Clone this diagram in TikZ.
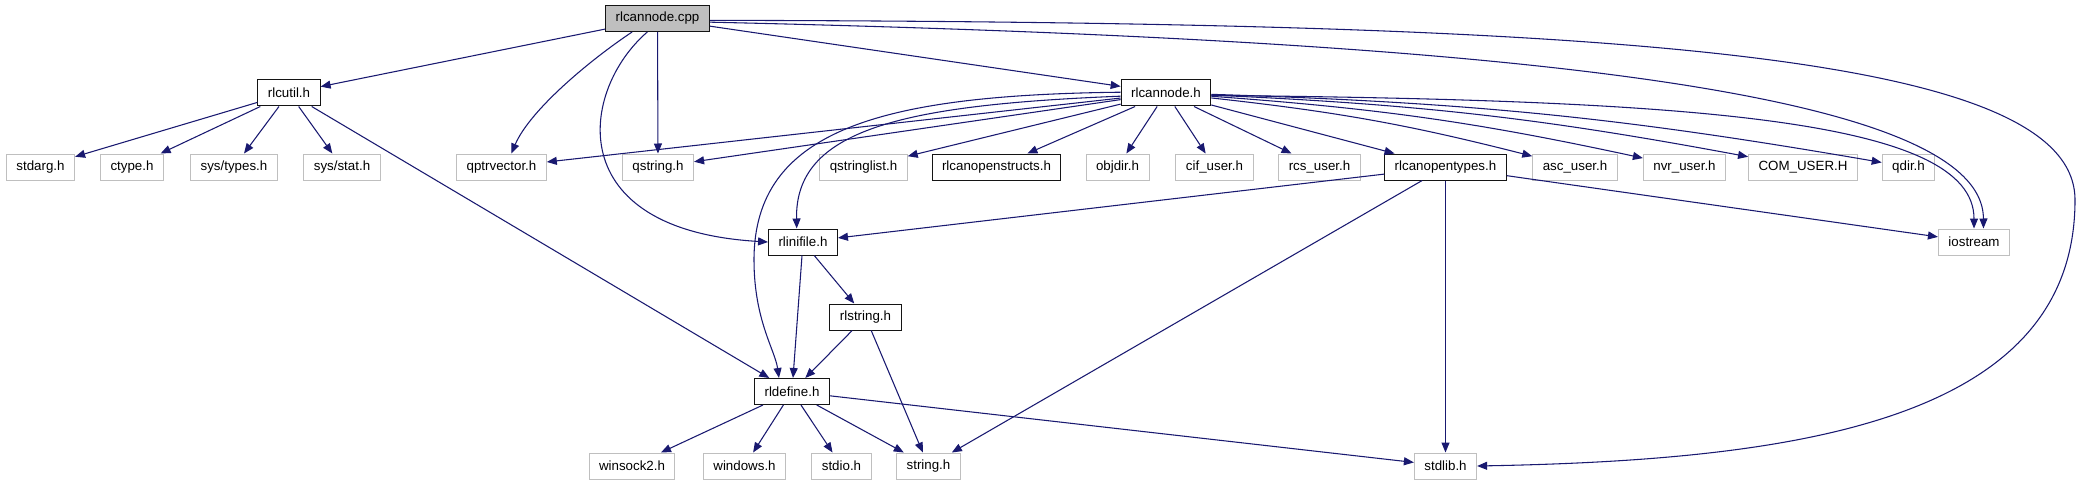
\documentclass[tikz,border=0pt]{standalone}
\definecolor{edgeblue}{RGB}{25, 25, 112}
\definecolor{boxgray}{RGB}{191, 191, 191}
\definecolor{framedark}{RGB}{20, 20, 20}
\usepackage{fontspec}
\setmainfont{Liberation Sans}
\usepackage{tikz}
\usetikzlibrary{arrows.meta}

\begin{document}
\begin{tikzpicture}[x=0.75pt, y=-0.75pt,
    hfile/.style={draw=framedark, rectangle, line width=0.75pt, inner xsep=7.5pt, inner ysep=0pt,
      minimum height=19.5pt, font=\fontsize{10}{12}\selectfont},
    sysfile/.style={hfile, draw=boxgray},
    rootfile/.style={hfile, fill=boxgray},
    dep/.style={draw=edgeblue, line width=0.8pt, -{Triangle[length=7.5pt, width=6pt]}}]
  \useasboundingbox (0,0) rectangle (2081,485);

  % source file
  \node[rootfile] (cpp) at (657.5, 18.5) {rlcannode.cpp};

  % first level headers
  \node[hfile] (rlcutil) at (289, 93) {rlcutil.h};
  \node[hfile] (rlcannode) at (1166, 93) {rlcannode.h};

  % second row
  \node[sysfile] (stdarg) at (40.5, 167) {stdarg.h};
  \node[sysfile] (ctype) at (132, 167) {ctype.h};
  \node[sysfile] (systypes) at (234, 167) {sys/types.h};
  \node[sysfile] (sysstat) at (342, 167) {sys/stat.h};
  \node[sysfile] (qptrvector) at (501.5, 167) {qptrvector.h};
  \node[sysfile] (qstring) at (658, 167) {qstring.h};
  \node[sysfile] (qstringlist) at (863.5, 167) {qstringlist.h};
  \node[hfile] (structs) at (996.5, 167) {rlcanopenstructs.h};
  \node[sysfile] (objdir) at (1117.5, 167) {objdir.h};
  \node[sysfile] (cifuser) at (1214.5, 167) {cif\_user.h};
  \node[sysfile] (rcsuser) at (1319.5, 167) {rcs\_user.h};
  \node[hfile] (types) at (1445.5, 167) {rlcanopentypes.h};
  \node[sysfile] (ascuser) at (1575, 167) {asc\_user.h};
  \node[sysfile] (nvruser) at (1684.5, 167) {nvr\_user.h};
  \node[sysfile] (comuser) at (1803, 167) {COM\_USER.H};
  \node[sysfile] (qdir) at (1908.5, 167) {qdir.h};

  % lower levels
  \node[hfile] (rlinifile) at (803, 242) {rlinifile.h};
  \node[sysfile] (iostream) at (1974, 242) {iostream};
  \node[hfile] (rlstring) at (865.5, 317) {rlstring.h};
  \node[hfile] (rldefine) at (792, 391.5) {rldefine.h};

  % bottom row
  \node[sysfile] (winsock) at (632, 466) {winsock2.h};
  \node[sysfile] (windows) at (744.5, 466) {windows.h};
  \node[sysfile] (stdio) at (841.5, 466) {stdio.h};
  \node[sysfile] (stringh) at (928.5, 466) {string.h};
  \node[sysfile] (stdlib) at (1445.5, 466) {stdlib.h};

  % includes of rlcannode.cpp
  \draw[dep] (cpp) -- (rlcutil);
  \draw[dep] (cpp.-152) .. controls (590, 60) and (530, 110) .. (qptrvector.54);
  \draw[dep] (cpp.-127) .. controls (580, 90) and (560, 230) .. (rlinifile.west);
  \draw[dep] (cpp) -- (qstring);
  \draw[dep] (cpp) -- (rlcannode);
  \draw[dep] (cpp.-4) .. controls (1500, 40) and (1983, 90) .. (iostream.55);
  \draw[dep] (cpp.-2) .. controls (1600, 22) and (2075, 50) .. (2075, 200)
    .. controls (2075, 420) and (1800, 460) .. (stdlib.east);

  % includes of rlcutil.h
  \foreach \dst in {stdarg, ctype, systypes, sysstat, rldefine}
    \draw[dep] (rlcutil) -- (\dst);

  % includes of rlcannode.h
  \foreach \dst in {qptrvector, qstring, qstringlist, structs, objdir, cifuser, rcsuser, types}
    \draw[dep] (rlcannode) -- (\dst);
  \foreach \dst in {ascuser, nvruser, comuser, qdir}
    \draw[dep] (rlcannode) to[bend left=4] (\dst);
  \draw[dep] (rlcannode.184) .. controls (900, 105) and (795, 130) .. (rlinifile.115);
  \draw[dep] (rlcannode.179) .. controls (880, 95) and (754, 130) .. (754, 260)
    .. controls (754, 320) and (775, 350) .. (rldefine.134);
  \draw[dep] (rlcannode.-3) .. controls (1700, 100) and (1974, 120) .. (iostream.north);

  % includes of rlcanopentypes.h
  \foreach \dst in {rlinifile, stringh, stdlib, iostream}
    \draw[dep] (types) -- (\dst);

  % rlinifile.h, rlstring.h and rldefine.h
  \draw[dep] (rlinifile) -- (rldefine);
  \draw[dep] (rlinifile) -- (rlstring);
  \draw[dep] (rlstring) -- (rldefine);
  \draw[dep] (rlstring) -- (stringh);
  \foreach \dst in {winsock, windows, stdio, stringh, stdlib}
    \draw[dep] (rldefine) -- (\dst);
\end{tikzpicture}
\end{document}
